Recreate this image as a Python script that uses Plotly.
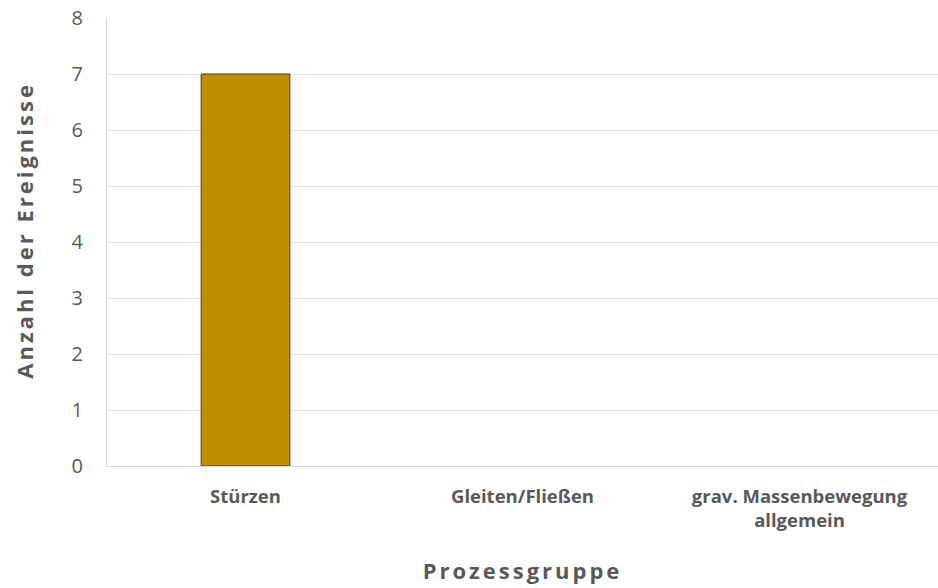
import plotly.graph_objects as go

categories = ["Stürzen", "Gleiten/Fließen", "grav. Massenbewegung<br>allgemein"]
counts = [7, 0, 0]
y_ticks = [0, 1, 2, 3, 4, 5, 6, 7, 8]
x_title = "Prozessgruppe"
y_title = "Anzahl der Ereignisse"

fig = go.Figure(
    go.Bar(
        x=categories,
        y=counts,
        marker=dict(
            color="#BF8F00",
            line=dict(color="#3A3A3A", width=[1 if v > 0 else 0 for v in counts]),
        ),
        width=0.32,
    )
)

font_family = "Open Sans, Liberation Sans, sans-serif"
fig.update_layout(
    width=938,
    height=588,
    margin=dict(l=107, r=0, t=18, b=122),
    paper_bgcolor="white",
    plot_bgcolor="white",
    showlegend=False,
    font=dict(family=font_family, color="#595959"),
    xaxis=dict(
        showgrid=False,
        showline=True,
        linecolor="#D9D9D9",
        linewidth=1,
        tickfont=dict(size=18.5, color="#595959", weight="bold"),
        ticklabelstandoff=14,
        title=dict(text=x_title, font=dict(size=22, color="#595959", weight="bold"), standoff=32),
    ),
    yaxis=dict(
        range=[0, 8],
        tickvals=y_ticks,
        showgrid=True,
        gridcolor="#E6E6E6",
        gridwidth=1,
        showline=True,
        linecolor="#D9D9D9",
        zeroline=False,
        tickfont=dict(size=20, color="#595959"),
        ticklabelstandoff=19,
    ),
    annotations=[
        dict(
            text=y_title,
            textangle=-90,
            xref="paper",
            yref="paper",
            x=-0.1,
            y=0.526,
            xanchor="center",
            yanchor="middle",
            showarrow=False,
            font=dict(size=22, color="#595959", weight="bold", family=font_family),
        )
    ],
)

post = """
document.querySelectorAll('.xtitle, .annotation-text').forEach(function(e){ e.style.letterSpacing = '3px'; });
"""
fig.write_html("out.html", post_script=post)
